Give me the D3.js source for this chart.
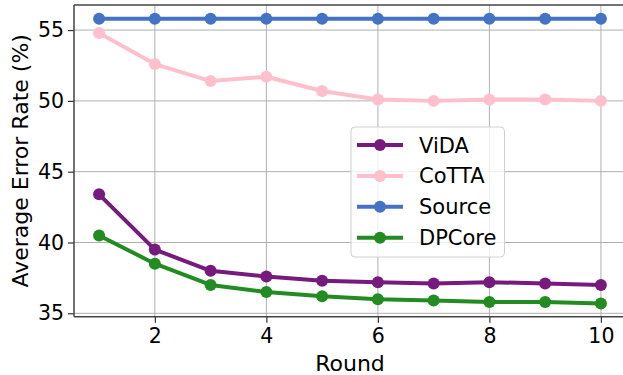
<!DOCTYPE html>
<html>
<head>
<meta charset="utf-8">
<script src="https://cdn.jsdelivr.net/npm/d3@7"></script>
<style>
  html, body { margin: 0; padding: 0; background: #fff; }
  svg { display: block; font-family: "DejaVu Sans", sans-serif; }
</style>
</head>
<body>
<div id="chart"></div>
<script>
// -----------------------------
// Data
// -----------------------------
const rounds = [1, 2, 3, 4, 5, 6, 7, 8, 9, 10];
const vida   = [43.4, 39.5, 38.0, 37.6, 37.3, 37.2, 37.1, 37.2, 37.1, 37.0];
const cotta  = [54.8, 52.6, 51.4, 51.7, 50.7, 50.1, 50.0, 50.1, 50.1, 50.0];
const source = [55.8, 55.8, 55.8, 55.8, 55.8, 55.8, 55.8, 55.8, 55.8, 55.8];
const dpcore = [40.5, 38.5, 37.0, 36.5, 36.2, 36.0, 35.9, 35.8, 35.8, 35.7];
const xTicks = [2, 4, 6, 8, 10];
const yTicks = [35, 40, 45, 50, 55];

const series = [
  { name: "ViDA",   values: vida,   color: "#761a7d" },
  { name: "CoTTA",  values: cotta,  color: "#ffc0cb" },
  { name: "Source", values: source, color: "#4472c4" },
  { name: "DPCore", values: dpcore, color: "#228b22" }
];

// -----------------------------
// Layout
// -----------------------------
const width = 623, height = 375;
const margin = { top: 5, right: -3, bottom: 58.3, left: 74 };
const innerW = width - margin.left - margin.right;
const innerH = height - margin.top - margin.bottom;

const x = d3.scaleLinear().domain([0.55, 10.45]).range([0, innerW]);
const y = d3.scaleLinear().domain([34.76, 56.77]).range([innerH, 0]);

const svg = d3.select("#chart").append("svg")
  .attr("width", width)
  .attr("height", height);

const g = svg.append("g")
  .attr("transform", `translate(${margin.left},${margin.top})`);

// -----------------------------
// Grid
// -----------------------------
g.append("g").selectAll("line")
  .data(xTicks)
  .join("line")
  .attr("x1", d => x(d)).attr("x2", d => x(d))
  .attr("y1", 0).attr("y2", innerH)
  .attr("stroke", "#b0b0b0").attr("stroke-width", 1);

g.append("g").selectAll("line")
  .data(yTicks)
  .join("line")
  .attr("x1", 0).attr("x2", innerW)
  .attr("y1", d => y(d)).attr("y2", d => y(d))
  .attr("stroke", "#b0b0b0").attr("stroke-width", 1);

// -----------------------------
// Axes
// -----------------------------
const xAxis = g.append("g")
  .attr("transform", `translate(0,${innerH})`)
  .call(d3.axisBottom(x).tickValues(xTicks).tickSize(6).tickPadding(5));
const yAxis = g.append("g")
  .call(d3.axisLeft(y).tickValues(yTicks).tickSize(6).tickPadding(4));

[xAxis, yAxis].forEach(a => {
  a.select(".domain").remove();
  a.selectAll(".tick line").attr("stroke", "#333").attr("stroke-width", 1.2);
  a.selectAll(".tick text")
    .attr("fill", "#000")
    .style("font-size", "20.5px")
    .style("font-family", "DejaVu Sans, sans-serif");
});
xAxis.selectAll(".tick text").attr("y", 26.8).attr("dy", 0);

// spines (left, top, bottom)
g.append("line").attr("x1", 0).attr("x2", 0).attr("y1", 0).attr("y2", innerH)
  .attr("stroke", "#444").attr("stroke-width", 1.5);
g.append("line").attr("x1", 0).attr("x2", innerW).attr("y1", 0).attr("y2", 0)
  .attr("stroke", "#444").attr("stroke-width", 1.5);
g.append("line").attr("x1", 0).attr("x2", innerW).attr("y1", innerH).attr("y2", innerH)
  .attr("stroke", "#444").attr("stroke-width", 1.5);

// -----------------------------
// Lines & markers
// -----------------------------
const line = d3.line()
  .x((d, i) => x(rounds[i]))
  .y(d => y(d));

series.forEach(s => {
  g.append("path")
    .datum(s.values)
    .attr("fill", "none")
    .attr("stroke", s.color)
    .attr("stroke-width", 4)
    .attr("stroke-linejoin", "round")
    .attr("d", line);

  g.append("g").selectAll("circle")
    .data(s.values)
    .join("circle")
    .attr("cx", (d, i) => x(rounds[i]))
    .attr("cy", d => y(d))
    .attr("r", 6)
    .attr("fill", s.color);
});

// -----------------------------
// Labels
// -----------------------------
svg.append("text")
  .attr("x", margin.left + innerW / 2)
  .attr("y", 370.5)
  .attr("text-anchor", "middle")
  .style("font-size", "22px")
  .text("Round");

svg.append("text")
  .attr("transform", `translate(28,${margin.top + innerH / 2}) rotate(-90)`)
  .attr("text-anchor", "middle")
  .style("font-size", "22px")
  .text("Average Error Rate (%)");

// -----------------------------
// Legend
// -----------------------------
const legend = svg.append("g").attr("transform", "translate(351,127)");
legend.append("rect")
  .attr("width", 153.5)
  .attr("height", 130)
  .attr("rx", 4)
  .attr("fill", "#fff")
  .attr("fill-opacity", 0.8)
  .attr("stroke", "#d0d0d0")
  .attr("stroke-width", 1);

series.forEach((s, i) => {
  const cy = 18 + i * 30.9;
  legend.append("line")
    .attr("x1", 6).attr("x2", 52)
    .attr("y1", cy).attr("y2", cy)
    .attr("stroke", s.color).attr("stroke-width", 4);
  legend.append("circle")
    .attr("cx", 29).attr("cy", cy).attr("r", 6)
    .attr("fill", s.color);
  legend.append("text")
    .attr("x", 68).attr("y", cy + 7.5)
    .style("font-size", "21px")
    .text(s.name);
});
</script>
</body>
</html>
